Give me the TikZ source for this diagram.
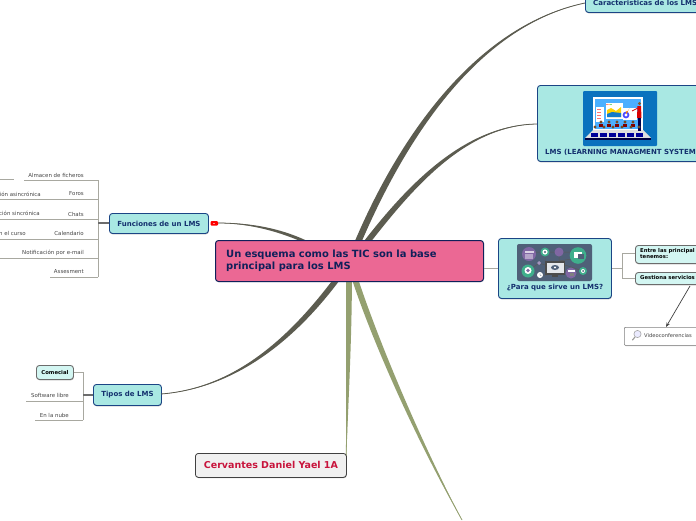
\documentclass[tikz,border=0pt]{standalone}
\usepackage{fontspec}
\setmainfont{DejaVu Sans}
\usetikzlibrary{shadows,arrows.meta,calc}
\definecolor{teal1}{HTML}{A9E8E3}
\definecolor{teal2}{HTML}{D3F6F2}
\definecolor{navy}{HTML}{1B4585}
\definecolor{ink}{HTML}{14306E}
\definecolor{rootpink}{HTML}{EB6894}
\definecolor{rootline}{HTML}{10205A}
\definecolor{branch}{HTML}{5C5C50}
\definecolor{olive}{HTML}{94A070}
\definecolor{wire}{HTML}{A8A8A0}
\definecolor{labelc}{HTML}{444444}
\definecolor{redname}{HTML}{C8143C}
\definecolor{purp}{HTML}{6A4C93}
\definecolor{greenc}{HTML}{3FAE8C}
\definecolor{slate}{HTML}{4F6078}
\definecolor{blueimg}{HTML}{0A72BE}
\tikzset{
  x=1pt,y=-1pt,
  box/.style={rounded corners=3pt,inner sep=0pt,align=center,anchor=north west},
  mainfont/.style={font=\bfseries\fontsize{7}{8}\selectfont},
  mainbox/.style={box,draw=navy,line width=0.9pt,fill=teal1,text=ink,mainfont,
    drop shadow={shadow xshift=0.4pt,shadow yshift=-0.9pt,fill=gray!70,opacity=0.8}},
  subbox/.style={box,draw=gray!85!black,line width=0.9pt,fill=teal2,text=black,font=\bfseries\fontsize{5.3}{6}\selectfont,
    drop shadow={shadow xshift=0.4pt,shadow yshift=-0.9pt,fill=gray!70,opacity=0.8}},
  leaf/.style={anchor=east,inner sep=0pt,text=labelc,font=\fontsize{5.45}{6}\selectfont},
  rule/.style={draw=wire,line width=0.8pt},
  stub/.style={draw=gray!85!black,line width=1.4pt},
}
% tapered branch: #1 root, #2 half width at the root, #3 and #4 controls,
% #5 half width at the second control, #6 thin end, #7 colour
\newcommand{\taperbranch}[7]{%
  \fill[#7] ($(#1)-(#2)$) .. controls ($(#3)-(#2)$) and ($(#4)-(#5)$) .. (#6)
    .. controls ($(#4)+(#5)$) and ($(#3)+(#2)$) .. ($(#1)+(#2)$) -- cycle;
  \draw[#7,line width=0.8pt] (#1) .. controls (#3) and (#4) .. (#6);}
\begin{document}
\begin{tikzpicture}
\useasboundingbox (0,0) rectangle (696,520);
\clip (0,0) rectangle (696,520);
\fill[white] (0,0) rectangle (696,520);

% anchors of the branches
\coordinate (rc) at (358,242);
\coordinate (rl) at (367,242);
\coordinate (rf) at (306,242);
\coordinate (rt) at (337,279);
\coordinate (ry) at (349,279);
\coordinate (rb) at (355,279);
\coordinate (dotf) at (218,223);

% nodes
\node[mainbox,minimum width=140pt,minimum height=24pt] (car) at (585,-12) {};
\node[anchor=west,inner sep=0pt,text=ink,mainfont] (cart) at (593,2.5) {Caracteristicas de los LMS};
\node[mainbox,minimum width=180pt,minimum height=76pt] (lms) at (537,85) {};
\node[anchor=west,inner sep=0pt,text=ink,mainfont] (lmst) at (545,152.5) {LMS (LEARNING MANAGMENT SYSTEM};
\node[mainbox,minimum width=113pt,minimum height=60pt] (para) at (498,238) {};
\node[anchor=center,inner sep=0pt,text=ink,mainfont] (parat) at (555,287.5) {¿Para que sirve un LMS?};
\node[mainbox,minimum width=99pt,minimum height=20pt] (fun) at (109,213) {Funciones de un LMS};
\node[mainbox,minimum width=68pt,minimum height=21pt] (tip) at (93,384) {Tipos de LMS};

\taperbranch{rc}{2.8,1.6}{405,132}{480,25}{.3,.9}{585,3}{branch}
\taperbranch{rl}{2.3,1.8}{410,187}{465,125}{.3,.7}{537,124}{branch}
\taperbranch{rf}{.6,1.9}{280,230}{250,223}{.1,.4}{dotf}{branch}
\taperbranch{rt}{2.2,1.8}{295,335}{238,388}{.2,.4}{161,394}{branch}
\taperbranch{ry}{2.9,0}{349,340}{347,410}{.9,0}{346,465}{olive}
\taperbranch{rb}{2.8,-1}{375,340}{418,440}{1.6,-.9}{462,520}{olive}

\fill[red,rounded corners=1pt] (210.5,221) rectangle (218,225.5);
\fill[red!45!white] (213.4,222.6) rectangle (215.4,224);

\node[box,draw=rootline,line width=1pt,fill=rootpink,text=rootline,minimum width=268pt,minimum height=41pt,
  drop shadow={shadow xshift=0.4pt,shadow yshift=-0.6pt,fill=gray!60,opacity=0.6}] (root) at (215,240) {};
\node[anchor=north west,inner sep=0pt,align=left,text=rootline,font=\bfseries\fontsize{9.95}{12}\selectfont] (roott) at (226,249.5) {Un esquema como las TIC son la base\\principal para los LMS};
\draw[wire,line width=1pt] (root.east |- 0,268) -- (para.west |- 0,268);

\node[box,draw=black!75,line width=0.8pt,fill=gray!12,text=redname,font=\bfseries\fontsize{9.5}{10}\selectfont,minimum width=151pt,minimum height=24pt,
  drop shadow={shadow xshift=0.4pt,shadow yshift=-0.8pt,fill=gray!80,opacity=0.8}] (cer) at (195,453) {Cervantes Daniel Yael 1A};

% Funciones leaves
\coordinate (fx) at (98,223);
\draw[rule] (98,180) -- (98,277);
\draw[stub] (fx) -- (fun.west |- fx);
\foreach \yy/\xx in {180/24,199.5/0,219/0,239/0,258/0,277/50}{
  \draw[rule] (98,\yy) -- (\xx,\yy);}
\draw[rule] (0,179) -- (14,179);
\node[leaf] (l1) at (84,175) {Almacen de ficheros};
\node[leaf] (l2) at (84,194) {Foros};
\node[leaf] (l3) at (84,214) {Chats};
\node[leaf] (l4) at (84,233) {Calendario};
\node[leaf] (l5) at (84,253) {Notificación por e-mail};
\node[leaf] (l6) at (84,272) {Assesment};
\node[leaf] (l7) at (41,194) {ión asincrónica};
\node[leaf] (l8) at (40,213) {ción sincrónica};
\node[leaf] (l9) at (26,233) {n el curso};

% Tipos leaves
\draw[rule] (83,372) -- (83,420);
\draw[stub] (83,395) -- (tip.west |- 0,395);
\node[subbox,minimum width=37pt,minimum height=14pt] (com) at (36,365) {Comecial};
\draw[rule] (com.east |- 0,372) -- (83,372);
\draw[rule] (83,401) -- (26,401);
\draw[rule] (83,420) -- (35,420);
\node[leaf] (s1) at (69,395) {Software libre};
\node[leaf] (s2) at (69,415) {En la nube};

% Para que leaves
\node[subbox,minimum width=80pt,minimum height=18pt] (ent) at (635,245) {};
\node[anchor=north west,inner sep=0pt,align=left,font=\bfseries\fontsize{5.3}{6}\selectfont] (entt) at (640,248) {Entre las principal\\tenemos:};
\node[subbox,minimum width=80pt,minimum height=12pt] (ges) at (635,272) {};
\node[anchor=west,inner sep=0pt,font=\bfseries\fontsize{5.3}{6}\selectfont] (gest) at (640,278) {Gestiona servicios};
\draw[rule] (para.east |- 0,268) -- (622,268);
\draw[rule] (ent.west |- 0,253) -- (622,253) -- (622,278) -- (ges.west |- 0,278);
\node[box,draw=gray,line width=0.7pt,fill=white,rounded corners=1pt,minimum width=90pt,minimum height=18pt,
  drop shadow={shadow xshift=0.4pt,shadow yshift=-0.8pt,fill=gray!70,opacity=0.7}] (vid) at (624,327) {};
\node[anchor=west,inner sep=0pt,text=labelc,font=\fontsize{5.2}{6}\selectfont] (vidt) at (644,336) {Videoconferencias};
\coordinate (gesb) at (690,286);
\coordinate (vidtop) at (666,327);
\draw[black!75,line width=0.7pt,-{Stealth[length=4.5pt,width=3.5pt]}] (gesb) -- (vidtop);
% magnifier icon
\draw[gray!80,line width=1.1pt,line cap=round] (632.5,340) -- (635,337);
\filldraw[draw=gray!70,fill=blue!8,line width=0.6pt] (637.5,334) circle (3.6);

% LMS picture
\fill[blueimg,rounded corners=1pt] (583,91) rectangle (657,146);
\fill[gray!25] (593,130) -- (643,130) -- (651,138) -- (585,138) -- cycle;
\fill[black!75!blue] (585,138) rectangle (651,139.5);
\fill[white] (593,97) rectangle (643,130);
\fill[blue!45!cyan!70] (595,99) rectangle (641,129);
\fill[white] (596,107) rectangle (604,122);
\foreach \yy in {109,112,115,118}{\fill[red!55] (597,\yy) rectangle (601,\yy+1.2);}
\fill[white] (606,103) rectangle (623,119);
\fill[yellow!70!orange] (607,110) -- (611,108) -- (616,111) -- (621,107) -- (621,117) -- (607,117) -- cycle;
\fill[cyan!60!blue] (607,114) -- (612,112) -- (621,113) -- (621,117) -- (607,117) -- cycle;
\fill[red] (607,104.5) circle (0.7); \fill[orange] (609,104.5) circle (0.7); \fill[green!70!black] (611,104.5) circle (0.7);
\fill[white] (623,108) rectangle (637,120);
\fill[blue!70] (626,115) circle (3.4);
\fill[orange] (626,115) -- (626,111.6) arc (90:0:3.4) -- cycle;
\fill[white] (626,115) circle (1.6);
\fill[red!85!black] (637.5,106) -- (641,106) -- (641.5,118) -- (637,118) -- cycle;
\draw[red!85!black,line width=0.8pt] (638,108) -- (632,111);
\fill[brown!70!black] (639.5,103.5) circle (1.7);
\fill[black!70!blue] (637.5,118) rectangle (641,131);
\foreach \xx in {601,609,617,625,633}{
  \fill[brown!60!black] (\xx,122) circle (1.6);
  \fill[red!50!black] (\xx-2,124) rectangle (\xx+2,127);}
\foreach \xx in {594,603,612,621,630,638}{
  \fill[brown!60!black] (\xx+1,127) circle (1.6);}
\foreach \xx in {591,600,609,618,627,636}{
  \fill[blue!60!black] (\xx,132.5) rectangle (\xx+7,136.5);}

% Para que picture
\fill[slate,rounded corners=2pt] (517,244) rectangle (592,281);
\draw[black!65,line width=0.5pt] (529,254) -- (537,252) -- (578,252) (545,252) -- (545,261) (559,252) -- (559,261) -- (578,258)
  (528,271) -- (539,263) -- (545,265) (565,265) -- (583,271) (565,272) -- (571,273) (540,275) -- (547,275);
\fill[purp!85] (529,254) circle (7);
\fill[white!75!purp] (524.5,250.5) rectangle (533.5,253);
\fill[purp!50] (525,254) rectangle (533,259);
\fill[greenc] (545,252) circle (4.5); \fill[white] (545,252) circle (2.6); \fill[slate] (545,252) circle (1.2);
\fill[purp!85] (559,252) circle (4.5);
\fill[greenc] (578,255.5) circle (8.3);
\fill[white] (574,252) rectangle (582,258);
\fill[slate] (578,254) rectangle (584,259);
\fill[greenc] (528,271) circle (6.5); \fill[white] (528,270.5) circle (3.5); \fill[purp!85] (528,270.5) circle (1.8);
\fill[purp!60] (539,261) -- (541,263) -- (539,265) -- (537,263) -- cycle;
\fill[white] (540,275) circle (3); \draw[slate,line width=0.4pt] (540,273.4) -- (540,275) -- (541.2,275.6);
\fill[black!70] (545,261) rectangle (565,275);
\fill[white!85!slate] (546.5,262.5) rectangle (563.5,272.5);
\fill[slate] (555,267.5) ellipse (4 and 2.5);
\fill[white] (555,267.5) circle (1.2);
\fill[black!70] (552,275) rectangle (558,277);
\fill[purp!85] (571,273) circle (5.5);
\fill[white] (567.5,270) rectangle (574.5,272);
\fill[black!50] (570,273) rectangle (574,276);
\fill[greenc] (583,271) circle (4); \fill[white] (583,271) circle (2); \fill[slate] (583,271) circle (1);
\end{tikzpicture}
\end{document}
